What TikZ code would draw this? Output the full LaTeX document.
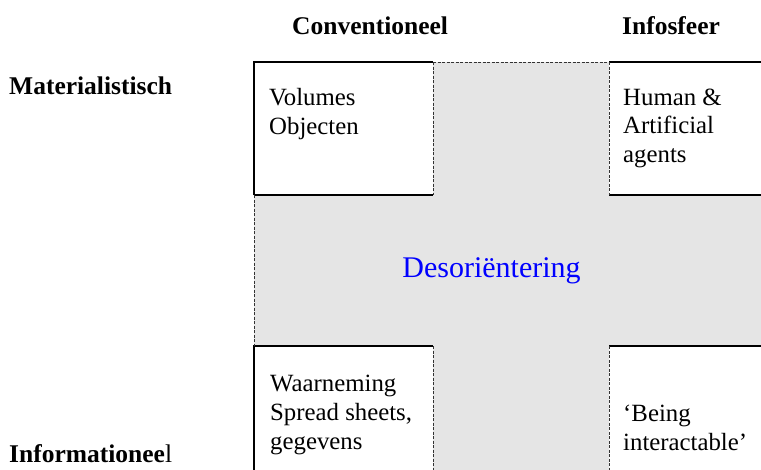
\documentclass[tikz,border=0pt]{standalone}
\usepackage{fontspec}
\setmainfont{Liberation Serif}
\usetikzlibrary{positioning}

\definecolor{crossgrey}{RGB}{229,229,229}
\definecolor{desblue}{RGB}{0,0,255}

\begin{document}
\begin{tikzpicture}[x=1pt,y=-1pt,
  cell/.style={draw=none,fill=white,inner sep=0pt,anchor=north west},
  txt/.style={inner sep=0pt,anchor=base west,align=left,font=\fontsize{24.8pt}{28.8pt}\selectfont},
  head/.style={txt,font=\fontsize{25.5pt}{28.8pt}\selectfont\bfseries},
  rim/.style={line width=2pt},
  seam/.style={line width=0.8pt,dash pattern=on 3pt off 1.5pt,black!80}]

\useasboundingbox (0,0) rectangle (761,469);

\node[cell,fill=crossgrey,minimum width=530pt,minimum height=430pt] (cross) at (254,62) {};

\node[cell,minimum width=179pt,minimum height=133pt] (mat) at (254,62) {};
\node[cell,minimum width=170pt,minimum height=133pt] (ai) at (609,62) {};
\node[cell,minimum width=179pt,minimum height=140pt] (info) at (254,346) {};
\node[cell,minimum width=170pt,minimum height=140pt] (inter) at (609,346) {};

% solid outer edges
\draw[rim] (mat.south west) -- (mat.north west) -- (mat.north east);
\draw[rim] (mat.south west) -- (mat.south east);
\draw[rim] (ai.north west) -- (ai.north east);
\draw[rim] (ai.south west) -- (ai.south east);
\draw[rim] (info.north east) -- (info.north west) -- (info.south west);
\draw[rim] (inter.north west) -- (inter.north east);

% dashed seams of the grey cross
\draw[seam] (mat.north east) -- (mat.south east);
\draw[seam] (mat.north east) -- (ai.north west);
\draw[seam] (ai.north west) -- (ai.south west);
\draw[seam] (mat.south west) -- (info.north west);
\draw[seam] (info.north east) -- (info.south east);
\draw[seam] (inter.north west) -- (inter.south west);

\node[head] (conv) at (292,34) {Conventioneel};
\node[head] (infos) at (622,34) {Infosfeer};
\node[head] (matl) at (9,94) {Materialistisch};
\node[head] (infl) at (9,462) {Informationee\textmd{l}};

% multi-line texts sit on their last line
\node[txt] (voltxt) at (269,134.5) {Volumes\\Objecten};
\node[txt] (aitxt) at (623,162.6) {Human \&\\Artificial\\agents};
\node[txt] (infotxt) at (270,449) {Waarneming\\Spread sheets,\\gegevens};
\node[txt] (intertxt) at (623,450.5) {‘Being\\interactable’};

\node[inner sep=0pt,anchor=base,font=\fontsize{30pt}{36pt}\selectfont,text=desblue] (deso) at (491.5,277) {Desoriëntering};

\end{tikzpicture}
\end{document}
